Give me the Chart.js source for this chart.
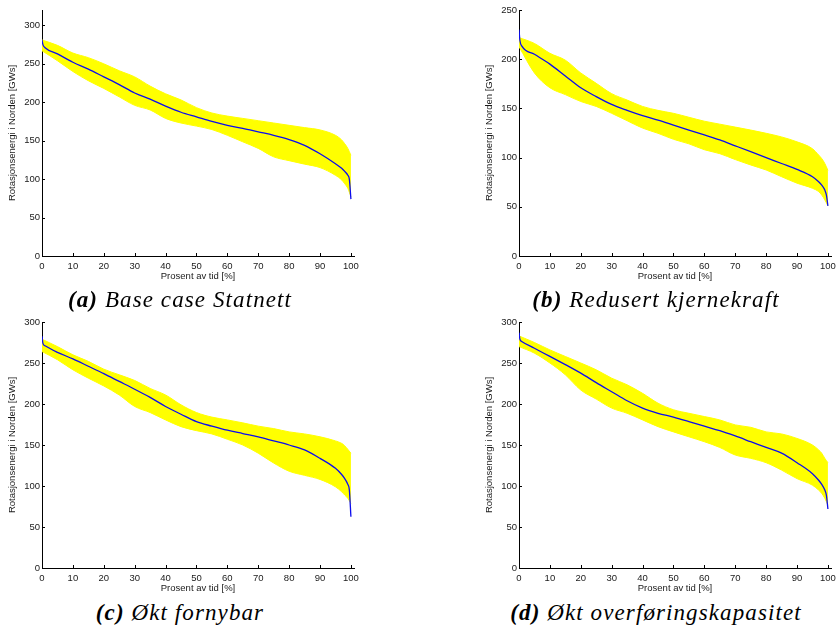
<!DOCTYPE html>
<html><head><meta charset="utf-8">
<script src="https://cdn.jsdelivr.net/npm/chart.js@4.4.0/dist/chart.umd.min.js"></script>
<style>
html,body{margin:0;padding:0;background:#fff;width:837px;height:627px;overflow:hidden;position:relative}
.pan{position:absolute;width:370px;height:287px}
.cap{position:absolute;font-family:'Liberation Serif',serif;font-style:italic;font-size:23px;letter-spacing:1.1px;white-space:nowrap;transform:translate(-50%,-50%);color:#000;line-height:1}
.cap b{font-weight:bold}
</style></head><body>
<div class="pan" style="left:0;top:0"><canvas id="cA" width="370" height="287"></canvas></div>
<div class="pan" style="left:477px;top:0"><canvas id="cB" width="370" height="287"></canvas></div>
<div class="pan" style="left:0;top:312px"><canvas id="cC" width="370" height="287"></canvas></div>
<div class="pan" style="left:477px;top:312px"><canvas id="cD" width="370" height="287"></canvas></div>
<div class="cap" style="left:180px;top:299px"><b>(a)</b> Base case Statnett</div>
<div class="cap" style="left:656px;top:299px"><b>(b)</b> Redusert kjernekraft</div>
<div class="cap" style="left:180px;top:612px"><b>(c)</b> Økt fornybar</div>
<div class="cap" style="left:656px;top:612px"><b>(d)</b> Økt overføringskapasitet</div>
<script>
// x positions (percent of time)
const envX  = [0,5,10,15,20,25,30,35,40,45,50,55,60,65,70,75,80,85,90,95,97,98,99,100];
const meanX = [0,0.3,1,5,10,15,20,25,30,35,40,45,50,55,60,65,70,75,80,85,90,95,97,98,99,99.5,100];
const xTicks = [0,10,20,30,40,50,60,70,80,90,100];
const yTicks300 = [0,50,100,150,200,250,300];
const yTicks250 = [0,50,100,150,200,250];
const xTitle = 'Prosent av tid [%]';
const yTitle = 'Rotasjonsenergi i Norden [GWs]';

// (a) Base case Statnett
const aMean  = [281,275,271,263,252,243,233,223,212,204,195,187,181,175,170,166,161.5,157,151.5,144,133,120,114,110,105,99.6,74];
const aUpper = [281,274,264,258,250,241,233,221,211,203,193,186,182,179,176,173,170,167,164,157,151,146,140,131];
const aLower = [267,254,240,228,218,207,196,190,179,173,169,164.5,157,148.5,140,129,124,119.5,115,105,99,94,88,77];
// (b) Redusert kjernekraft
const bMean  = [230,219,213,205,195,183,171,162,154,148,142.6,138,133,128,123,118,112,106,100,94,88,80.6,75.5,72,67,62,51];
const bUpper = [222,216,206,199,186,175.5,165,158.5,152,148,145,141,137,134,131,128,124.7,121,116,109,102.6,99,94,87];
const bLower = [212.7,186,171,164,157,152,145,137.5,130,124.7,118.6,114,108,104,98,92.5,87.4,80.6,74,68.8,65.4,62,57,51];
// (c) Økt fornybar
const cMean  = [282.5,274,271,263,255,246,237,227.5,218,208,197,187.5,178.5,173,168,164,160,155,150,144,133.7,121.5,114,109,102,95,62.4];
const cUpper = [279,270,260,252,242.5,235.6,228.7,219,211,199,189.6,184,180.6,177,173,170,166,163.5,160,155,152,149,144.7,140];
const cLower = [264,254,241.7,231.5,222,211,197,189.6,180.6,172.4,167.5,163.5,157,150,140,128,118,113,108,99,93,89,85,78.7];
// (d) Økt overføringskapasitet
const dMean  = [287,279,276,268,258,248,237.7,226,215,204,195,188.7,184,178.6,173,167.5,161,154,147,140,128.4,115,107,102,95,89,72];
const dUpper = [283,275,266,258,250,241.7,231.5,223.4,213,201,193,188.7,184.7,180.6,174.5,171.6,166,163.5,158,150,144,140,133.7,128.4];
const dLower = [270,262,250,235.6,217,206,195,188.7,180.6,172.4,166,160,154,147,137.8,133.7,128.4,119.4,109,101,95,91,85,76.6];

const pts = (xs, ys) => xs.map((x,i)=>({x:x, y:ys[i]}));

const inwardTicks = {
  id:'inwardTicks',
  afterDraw(chart){
    const {ctx, chartArea:a, scales:{x,y}} = chart;
    ctx.save(); ctx.strokeStyle='#000'; ctx.lineWidth=1;
    ctx.beginPath();
    x.ticks.forEach(t=>{const px=Math.round(x.getPixelForValue(t.value))+0.5; ctx.moveTo(px,a.bottom); ctx.lineTo(px,a.bottom-3);});
    y.ticks.forEach(t=>{const py=Math.round(y.getPixelForValue(t.value))+0.5; ctx.moveTo(a.left,py); ctx.lineTo(a.left+3,py);});
    ctx.stroke(); ctx.restore();
  }
};

const FONT = {family:"'Liberation Sans', Arial, sans-serif", size:9.5};

function makePanel(id, yMax, yTickVals, mean, upper, lower){
  new Chart(document.getElementById(id), {
    type:'line',
    data:{datasets:[
      {data:pts(meanX, mean), borderColor:'#0c0cee', borderWidth:1.3, pointRadius:0, order:0, cubicInterpolationMode:'monotone', fill:false},
      {data:pts(envX, upper), borderColor:'#ffff00', borderWidth:1, pointRadius:0, order:1, cubicInterpolationMode:'monotone', fill:false},
      {data:pts(envX, lower), borderColor:'#ffff00', borderWidth:1, pointRadius:0, order:2, cubicInterpolationMode:'monotone', fill:{target:1}, backgroundColor:'#ffff00'}
    ]},
    options:{
      responsive:false, animation:false, events:[],
      layout:{padding:{top:10, right:16, left:0, bottom:0}},
      plugins:{legend:{display:false}, tooltip:{enabled:false}},
      scales:{
        x:{type:'linear', min:0, max:101,
          afterBuildTicks:s=>{s.ticks = xTicks.map(v=>({value:v}));},
          afterFit:s=>{s.height = 31;},
          grid:{display:false, drawTicks:false},
          border:{display:true, color:'#000', width:1},
          ticks:{font:FONT, color:'#1a1a1a', padding:5, maxRotation:0, autoSkip:false},
          title:{display:true, text:xTitle, font:FONT, color:'#1a1a1a', padding:{top:0, bottom:5}}
        },
        y:{type:'linear', min:0, max:yMax,
          afterBuildTicks:s=>{s.ticks = yTickVals.map(v=>({value:v}));},
          afterFit:s=>{s.width = 42;},
          grid:{display:false, drawTicks:false},
          border:{display:true, color:'#000', width:1},
          ticks:{font:FONT, color:'#1a1a1a', padding:2, autoSkip:false},
          title:{display:true, text:yTitle, font:FONT, color:'#1a1a1a', padding:{top:7, bottom:0}}
        }
      }
    },
    plugins:[inwardTicks]
  });
}

makePanel('cA', 320, yTicks300, aMean, aUpper, aLower);
makePanel('cB', 250, yTicks250, bMean, bUpper, bLower);
makePanel('cC', 300, yTicks300, cMean, cUpper, cLower);
makePanel('cD', 300, yTicks300, dMean, dUpper, dLower);
</script>
</body></html>
